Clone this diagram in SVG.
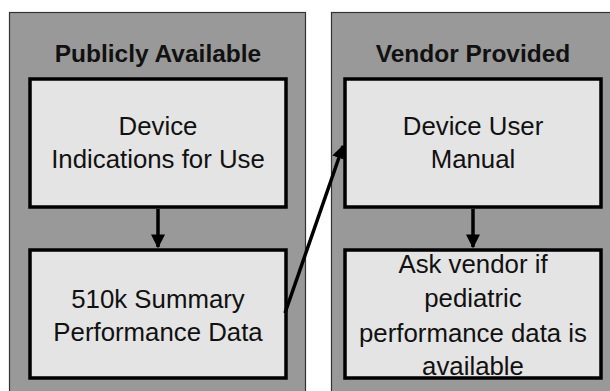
<svg xmlns="http://www.w3.org/2000/svg" width="610" height="391" viewBox="0 0 610 391">
<style>
.panel{fill:#999999;stroke:#333333;stroke-width:1.2}
.box{fill:#e4e4e4;stroke:#000000;stroke-width:3.5}
.title{font-family:"Liberation Sans",Arial,sans-serif;font-weight:bold;font-size:24.5px;fill:#111111;text-anchor:middle}
.lbl{font-family:"Liberation Sans",Arial,sans-serif;font-size:25.8px;fill:#111111;text-anchor:middle}
.conn{stroke:#000000;stroke-width:3.5;fill:none}
</style>
<defs>
<marker id="ah" viewBox="0 0 10 10" refX="9" refY="5" markerWidth="4" markerHeight="4" markerUnits="strokeWidth" orient="auto">
<path d="M0,0 L10,5 L0,10 z" fill="#000000"/>
</marker>
</defs>
<rect width="610" height="391" fill="#ffffff"/>
<g id="panel-public">
<rect class="panel" x="9.5" y="12.5" width="296" height="390"/>
<text class="title" x="158" y="62">Publicly Available</text>
</g>
<g id="panel-vendor">
<rect class="panel" x="331.5" y="12.5" width="290" height="390"/>
<text class="title" x="473" y="62">Vendor Provided</text>
</g>
<g id="node-indications">
<rect class="box" x="30" y="79" width="256" height="128"/>
<text class="lbl" x="158" y="135">Device</text>
<text class="lbl" x="158" y="168">Indications for Use</text>
</g>
<g id="node-510k">
<rect class="box" x="30" y="250" width="256" height="128"/>
<text class="lbl" x="158" y="308">510k Summary</text>
<text class="lbl" x="158" y="341">Performance Data</text>
</g>
<g id="node-manual">
<rect class="box" x="345" y="79" width="256" height="128"/>
<text class="lbl" x="473" y="135">Device User</text>
<text class="lbl" x="473" y="168">Manual</text>
</g>
<g id="node-ask">
<rect class="box" x="345" y="250" width="256" height="128"/>
<text class="lbl" x="473" y="273">Ask vendor if</text>
<text class="lbl" x="473" y="307">pediatric</text>
<text class="lbl" x="473" y="342">performance data is</text>
<text class="lbl" x="473" y="375">available</text>
</g>
<g id="connectors">
<line class="conn" x1="158" y1="209" x2="158" y2="247" marker-end="url(#ah)"/>
<line class="conn" x1="473" y1="209" x2="473" y2="247" marker-end="url(#ah)"/>
<line class="conn" x1="285" y1="313" x2="343" y2="146" marker-end="url(#ah)"/>
</g>
</svg>
